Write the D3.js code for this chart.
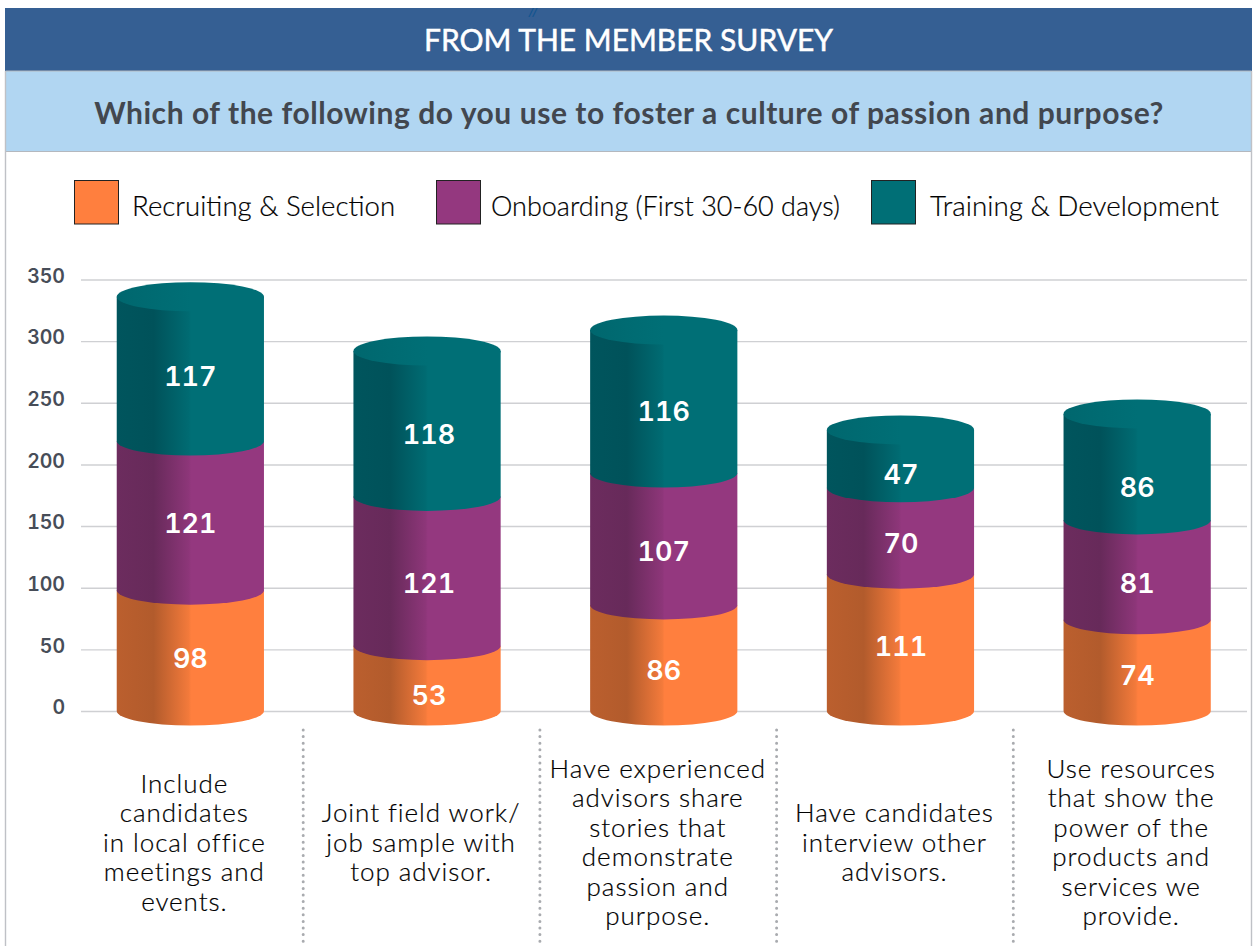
<!DOCTYPE html>
<html>
<head>
<meta charset="utf-8">
<script src="https://cdnjs.cloudflare.com/ajax/libs/d3/7.8.5/d3.min.js"></script>
<style>
  html, body { margin: 0; padding: 0; background: #fff; }
  svg { display: block; font-family: Lato, "Open Sans", sans-serif; }
  .figures { font-family: Inter, sans-serif; font-variant-numeric: tabular-nums; font-feature-settings: "tnum"; }
</style>
</head>
<body>
<svg id="chart" width="1254" height="946"></svg>
<script>
// Survey responses per practice, stacked by stage of the advisor career
const seriesNames = ["Recruiting & Selection", "Onboarding (First 30-60 days)", "Training & Development"];
const recruiting = [98, 53, 86, 111, 74];
const onboarding = [121, 121, 107, 70, 81];
const training = [117, 118, 116, 47, 86];
const categoryLines = [
  ["Include", "candidates", "in local office", "meetings and", "events."],
  ["Joint field work/", "job sample with", "top advisor."],
  ["Have experienced", "advisors share", "stories that", "demonstrate", "passion and", "purpose."],
  ["Have candidates", "interview other", "advisors."],
  ["Use resources", "that show the", "power of the", "products and", "services we", "provide."]
];
const yTicks = [0, 50, 100, 150, 200, 250, 300, 350];

// Hand-set vertical nudges for the value labels, per series then per column
const labelNudge = [
  [8, 17, 12, 4, 10],
  [8, 12, 12, 12, 13],
  [7, 11, 10, 15, 20]
];
const labelShiftX = [0, 2, 0, 0.5, 0];

const faceColors = ["#FF7F3E", "#94387F", "#006F76"];
const shadeColors = ["#B25B2C", "#672A5A", "#00525A"];

const svg = d3.select("#chart");
const defs = svg.append("defs");

// Page furniture: header bands and frame
svg.append("rect").attr("x", 5).attr("y", 8).attr("width", 1247).attr("height", 63).attr("fill", "#355F93");
svg.append("rect").attr("x", 5).attr("y", 71).attr("width", 1247).attr("height", 80).attr("fill", "#B1D6F2");
svg.append("path").attr("d", "M5.5,71H1251.5M5.5,151.5H1251.5").attr("stroke", "#B4B8BE").attr("stroke-width", 1.2).attr("fill", "none");
svg.append("path").attr("d", "M5.5,71V946M1251.5,71V946").attr("stroke", "#BFC1C6").attr("stroke-width", 1.4).attr("fill", "none");

svg.append("text").attr("x", 533).attr("y", 16).attr("text-anchor", "middle")
  .attr("font-family", "'DejaVu Sans', sans-serif")
  .attr("font-size", 10.5).attr("font-weight", 700).attr("font-style", "italic").attr("fill", "#12548F")
  .text("//");

svg.append("text").attr("x", 628.5).attr("y", 50.5).attr("text-anchor", "middle")
  .attr("font-size", 30).attr("font-weight", 400).attr("fill", "#fff")
  .attr("stroke", "#fff").attr("stroke-width", 0.5)
  .text("FROM THE MEMBER SURVEY");
svg.append("text").attr("x", 629).attr("y", 123.5).attr("text-anchor", "middle")
  .attr("font-size", 30).attr("font-weight", 700).attr("fill", "#42474F")
  .attr("letter-spacing", 0.55)
  .text("Which of the following do you use to foster a culture of passion and purpose?");

// Legend
const legendX = [74, 436, 871];
const legend = svg.append("g").selectAll("g").data(seriesNames).join("g")
  .attr("transform", (d, i) => `translate(${legendX[i]},180)`);
legend.append("rect").attr("x", .5).attr("y", .5).attr("width", 44).attr("height", 43.5)
  .attr("fill", (d, i) => faceColors[i]).attr("stroke", "#222").attr("stroke-width", 1);
legend.append("text").attr("x", (d, i) => [58, 55, 59][i]).attr("y", 35.5)
  .attr("font-size", (d, i) => [27.6, 27, 27.8][i]).attr("font-weight", 300).attr("fill", "#000")
  .attr("stroke", "#000").attr("stroke-width", 0.2).text(d => d);

// Scales
const y = d3.scaleLinear().domain([0, 350]).range([711, 279.5]);
const x = d3.scaleBand().domain(d3.range(recruiting.length)).range([72, 1255.5]).paddingInner(0.378).paddingOuter(0.189);
const ry = 14.5;
const rx = () => x.bandwidth() / 2;

// Gridlines and tick labels from the y axis
const axis = svg.append("g").attr("transform", "translate(81,0)")
  .call(d3.axisLeft(y).tickValues(yTicks).tickSize(-1166).tickPadding(16));
axis.select(".domain").remove();
axis.selectAll(".tick line").attr("stroke", "#CFD0D3").attr("stroke-width", 1.4);
axis.selectAll(".tick text").attr("class", "figures").attr("font-family", null).attr("font-size", 19.5).attr("font-weight", 600)
  .attr("fill", "#474D58").attr("dy", "0.14em");

// Shaded cylinder faces
seriesNames.forEach((name, i) => {
  const g = defs.append("linearGradient").attr("id", `face${i}`).attr("x1", 0).attr("x2", 1).attr("y1", 0).attr("y2", 0);
  const mix = d3.interpolateRgb(shadeColors[i], faceColors[i]);
  [[0, mix(0.12)], [0.25, shadeColors[i]], [0.49, mix(0.85)], [0.505, faceColors[i]], [1, faceColors[i]]].forEach(s => {
    g.append("stop").attr("offset", s[0]).attr("stop-color", s[1]);
  });
});
const capGradient = defs.append("linearGradient").attr("id", "cap").attr("x1", 0).attr("x2", 1).attr("y1", 0).attr("y2", 0);
[[0, "#00676E"], [0.5, faceColors[2]], [1, faceColors[2]]].forEach(s => {
  capGradient.append("stop").attr("offset", s[0]).attr("stop-color", s[1]);
});

const rows = recruiting.map((d, i) => ({ idx: i, r: d, o: onboarding[i], t: training[i] }));
const stacked = d3.stack().keys(["r", "o", "t"])(rows);

const barG = svg.append("g");
stacked.forEach((layer, s) => {
  barG.append("g").selectAll("path").data(layer).join("path")
    .attr("fill", `url(#face${s})`)
    .attr("d", d => {
      const x0 = x(d.data.idx), x1 = x0 + x.bandwidth();
      return `M${x0},${y(d[1])}L${x0},${y(d[0])}A${rx()},${ry} 0 0 0 ${x1},${y(d[0])}L${x1},${y(d[1])}Z`;
    });
});

// Cylinder caps on the last stack layer
const lastLayer = stacked[stacked.length - 1];
barG.append("g").selectAll("ellipse").data(lastLayer).join("ellipse")
  .attr("cx", d => x(d.data.idx) + rx())
  .attr("cy", d => y(d[1]))
  .attr("rx", rx()).attr("ry", ry)
  .attr("fill", "url(#cap)");

// Value labels
stacked.forEach((layer, s) => {
  svg.append("g").selectAll("text").data(layer).join("text")
    .attr("class", "figures")
    .attr("x", d => x(d.data.idx) + rx() + labelShiftX[d.data.idx])
    .attr("y", d => y((d[0] + d[1]) / 2) + labelNudge[s][d.data.idx])
    .attr("dy", "0.36em")
    .attr("text-anchor", "middle")
    .attr("font-size", 27).attr("font-weight", 600).attr("fill", "#fff")
    .text(d => d[1] - d[0]);
});

// Dotted separators between the category descriptions
const seps = d3.range(recruiting.length - 1).map(i => x(i) + x.bandwidth() + x.step() * 0.189 - 5.5);
svg.append("g").selectAll("line").data(seps).join("line")
  .attr("x1", d => d).attr("x2", d => d).attr("y1", 730).attr("y2", 946)
  .attr("stroke", "#A9ABAF").attr("stroke-width", 3).attr("stroke-linecap", "round").attr("stroke-dasharray", "0 6.6");

// Category descriptions, centred vertically as a block
const lineStep = 29.5;
const cat = svg.append("g").selectAll("text").data(categoryLines).join("text")
  .attr("text-anchor", "middle").attr("font-size", 26).attr("font-weight", 300).attr("fill", "#000")
  .attr("letter-spacing", 0.95).attr("stroke", "#000").attr("stroke-width", 0.2);
cat.each(function(lines, i) {
  const cx = x(i) + rx() - 6;
  const top = 842.5 - (lines.length - 1) * lineStep / 2 + 9;
  d3.select(this).selectAll("tspan").data(lines).join("tspan")
    .attr("x", cx).attr("y", (l, j) => top + j * lineStep).text(l => l);
});
</script>
</body>
</html>
